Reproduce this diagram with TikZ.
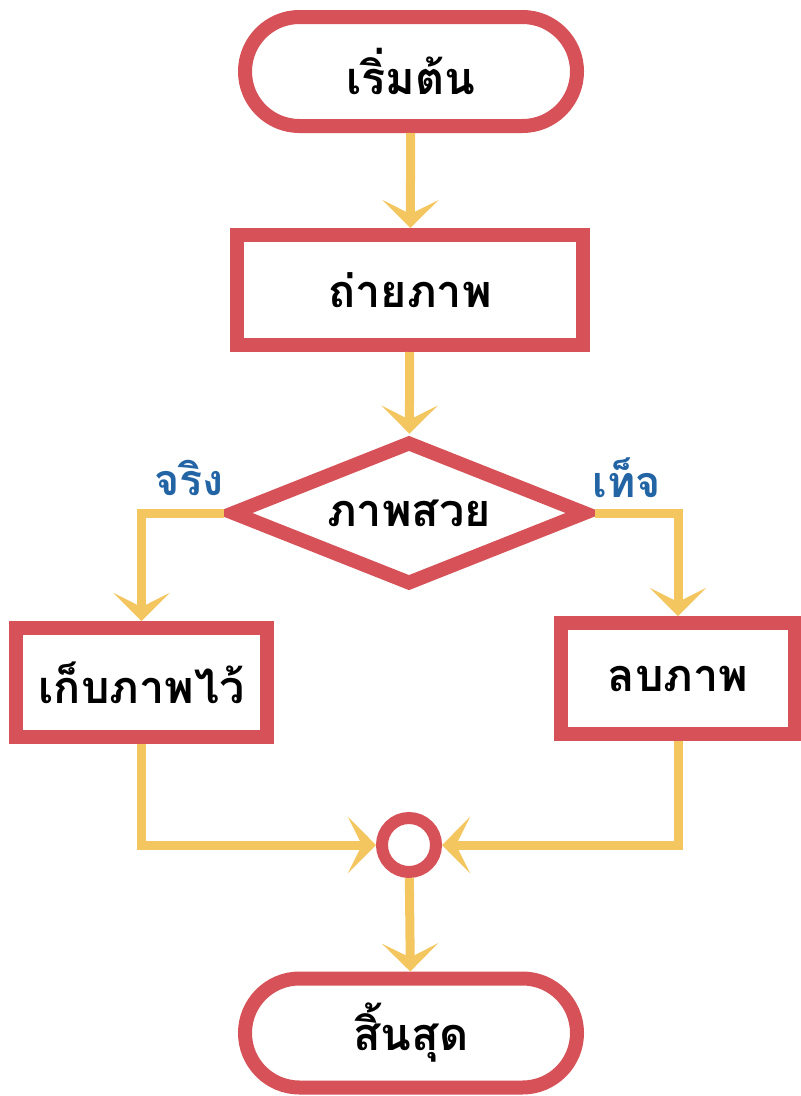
\documentclass[tikz,border=0pt]{standalone}
\usepackage{fontspec}
\newfontfamily\thaifont[Script=Thai]{Loma}
\usetikzlibrary{arrows.meta, shapes.geometric, shapes.misc}
\definecolor{flowred}{RGB}{214,82,88}
\definecolor{flowyellow}{RGB}{243,198,95}
\definecolor{flowblue}{RGB}{35,100,165}

\begin{document}
\begin{tikzpicture}[
		x=1pt, y=-1pt,
		font=\thaifont\bfseries\fontsize{45}{54}\selectfont,
		term/.style    ={rounded rectangle,	draw=flowred,	fill=white,	line width=14pt,	inner sep=0pt,	minimum width=332pt,	minimum height=109pt},
		process/.style ={rectangle,			draw=flowred,	fill=white,	line width=14pt,	inner sep=0pt},
		decision/.style={diamond,			draw=flowred,	fill=white,	line width=14pt,	inner sep=0pt,	aspect=2.46,	minimum width=357pt,	minimum height=145pt},
		joint/.style   ={circle,				draw=flowred,	fill=white,	line width=12pt,	inner sep=0pt,	minimum size=54pt},
		flow/.style    ={draw=flowyellow,	line width=9pt,	-{Stealth[length=28pt, width=56pt, inset=14pt]}},
		answer/.style  ={text=flowblue,	font=\thaifont\bfseries\fontsize{43}{52}\selectfont},
	]

	\useasboundingbox (0,0) rectangle (801,1096);

	% nodes
	\node [term] (start) at (411,71.5) {เริ่มต้น};
	\node [process, minimum width=346pt, minimum height=110pt] (shoot) at (410,290) {ถ่ายภาพ};
	\node [decision] (pretty) at (409,513) {ภาพสวย};
	\node [process, minimum width=251pt, minimum height=109pt] (keep) at (141.5,682.5) {เก็บภาพไว้};
	\node [process, minimum width=234pt, minimum height=111pt] (erase) at (678,678.5) {ลบภาพ};
	\node [joint] (merge) at (409,845) {};
	\node [term] (stop) at (411,1033) {สิ้นสุด};

	\node [answer] (yes) at (189,478) {จริง};
	\node [answer] (no) at (627,478) {เท็จ};

	% interconnections
	\draw [flow] (start) -- (shoot);
	\draw [flow] (shoot) -- (pretty);
	\draw [flow] (pretty.west) -| (keep);
	\draw [flow] (pretty.east) -| (erase);
	\draw [flow] (keep) |- (merge);
	\draw [flow] (erase) |- (merge);
	\draw [flow] (merge) -- (stop);

\end{tikzpicture}
\end{document}
